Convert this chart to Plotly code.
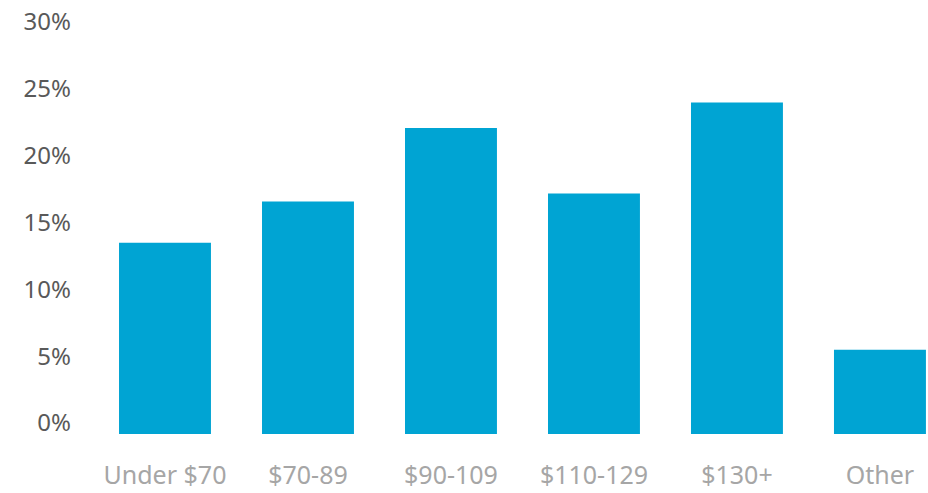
import plotly.graph_objects as go

categories = ["Under $70", "$70-89", "$90-109", "$110-129", "$130+", "Other"]
values = [14.3, 17.4, 22.9, 18.0, 24.8, 6.3]
y_ticks = [0, 5, 10, 15, 20, 25, 30]
y_tick_labels = [f"{v}%" for v in y_ticks]

fig = go.Figure(go.Bar(
    x=list(range(len(categories))),
    y=values,
    marker=dict(color="#00A4D3", line=dict(width=0)),
    width=0.643,
    hoverinfo="skip",
))

fig.update_layout(
    width=928, height=493,
    margin=dict(l=100, r=0, t=33, b=59),
    paper_bgcolor="white", plot_bgcolor="white",
    showlegend=False,
    font=dict(family="Noto Sans", size=22),
)
fig.update_xaxes(
    range=[-0.4545, 5.336],
    tickmode="array", tickvals=list(range(len(categories))), ticktext=categories,
    tickfont=dict(color="#A6A6A6", size=25),
    showgrid=False, zeroline=False, showline=False, ticks="",
    ticklabelstandoff=24,
)
fig.update_yaxes(
    range=[0, 30],
    tickmode="array", tickvals=y_ticks, ticktext=y_tick_labels,
    tickfont=dict(color="#595959", size=24),
    showgrid=False, zeroline=False, showline=False, ticks="",
    ticklabelshift=-11, ticklabelstandoff=28,
)

fig.write_html("out.html")
